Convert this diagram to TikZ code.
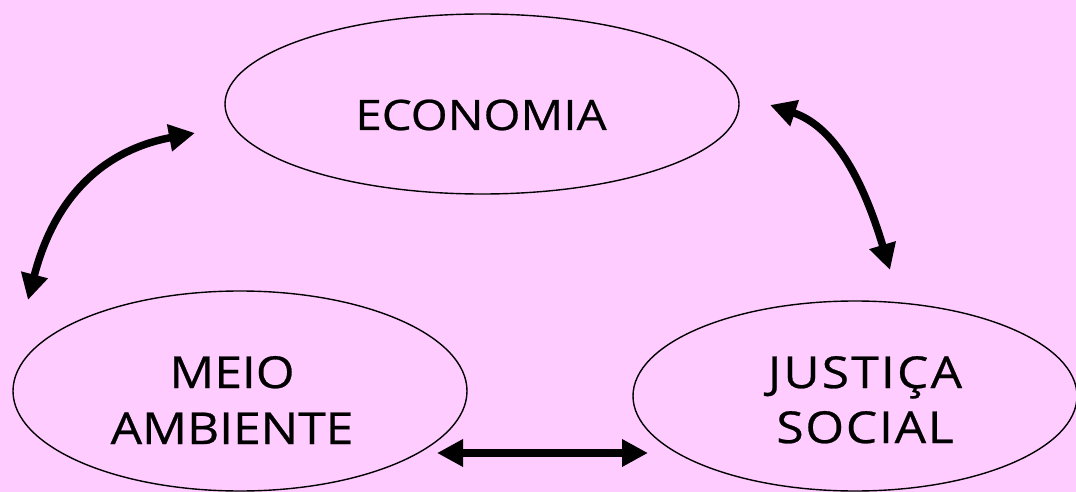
\documentclass[tikz,border=0pt]{standalone}
\usepackage{fontspec}
\setmainfont{Open Sans}[FakeStretch=1.13, FakeBold=0.6]
\usetikzlibrary{shapes.geometric,arrows.meta}
\definecolor{bgpink}{RGB}{255,204,255}
\tikzset{
  oval/.style={ellipse, draw=black, line width=1.4pt, inner sep=0pt},
  lbl/.style={anchor=base, inner sep=0pt, font=\fontsize{42}{50}\selectfont},
  lbllow/.style={anchor=base, inner sep=0pt, font=\fontsize{44}{50}\selectfont},
  link/.style={line width=7.5pt, {Triangle[length=26pt,width=26pt]}-{Triangle[length=26pt,width=26pt]}}
}
\begin{document}
\begin{tikzpicture}[x=1pt,y=-1pt]
\fill[bgpink] (0,0) rectangle (1076,492);
\useasboundingbox (0,0) rectangle (1076,492);
\node[oval, minimum width=514pt, minimum height=180pt] (eco) at (482,104) {};
\node[oval, minimum width=454pt, minimum height=200pt] (meio) at (240,391) {};
\node[oval, minimum width=444pt, minimum height=190pt] (just) at (855,396) {};
\node[lbl] (ecot) at (481,130) {ECONOMIA};
\node[lbllow] (meiot1) at (232,388) {MEIO};
\node[lbllow] (meiot2) at (232,444) {AMBIENTE};
\node[lbllow] (justt1) at (865,388) {\addfontfeature{LetterSpace=5}JUSTIÇA};
\node[lbllow] (justt2) at (865,443) {\addfontfeature{LetterSpace=4}SOCIAL};
\coordinate (a1) at (28,300);
\coordinate (a2) at (195,133);
\coordinate (b1) at (770,105);
\coordinate (b2) at (890,270);
\coordinate (c1) at (437,453);
\coordinate (c2) at (648,453);
\draw[link] (a1) .. controls (55,195) and (105,150) .. (a2);
\draw[link] (b1) .. controls (830,125) and (860,170) .. (b2);
\draw[link] (c1) -- (c2);
\end{tikzpicture}
\end{document}
